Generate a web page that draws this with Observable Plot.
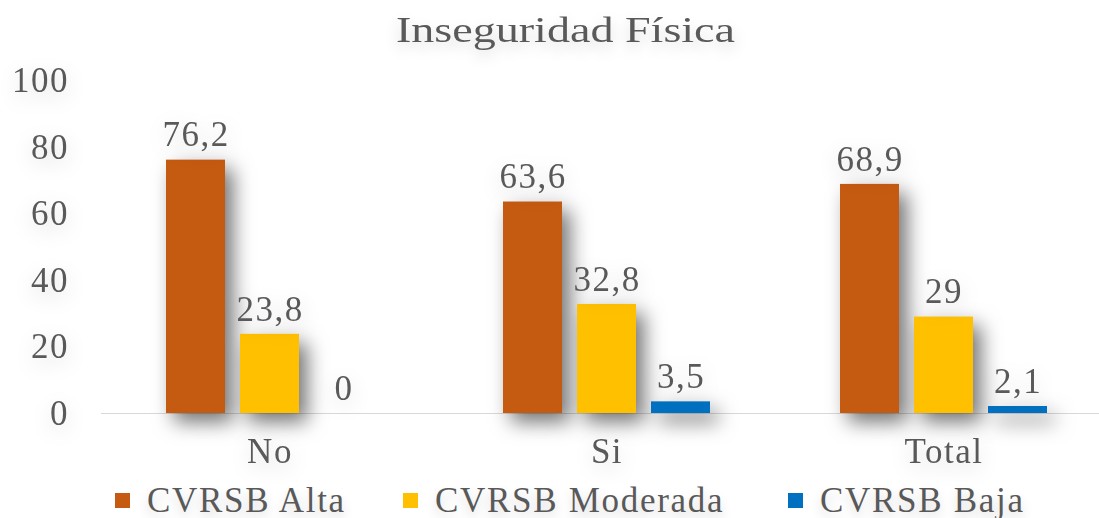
<!DOCTYPE html>
<html>
<head>
<meta charset="utf-8">
<script src="https://cdn.jsdelivr.net/npm/d3@7"></script>
<script src="https://cdn.jsdelivr.net/npm/@observablehq/plot@0.6"></script>
<style>
  html, body { margin: 0; padding: 0; background: #ffffff; overflow: hidden; }
  #wrap { width: 1099px; height: 518px; position: relative; font-family: "Liberation Serif", "Times New Roman", serif; color: #595959; }
  #title { height: 60px; line-height: 60px; font-size: 36px; text-align: center; position: relative; }
  #title span { display: inline-block; transform: scaleX(1.28); position: relative; left: 16px; text-shadow: 0 6px 14px rgba(0,0,0,0.18); }
  #chart svg { display: block; overflow: visible; }
  #chart svg text { font-family: "Liberation Serif", "Times New Roman", serif; font-size: 35px; fill: #595959; letter-spacing: 1.5px; filter: drop-shadow(0px 6px 10px rgba(0,0,0,0.16)); }
  #chart svg g[aria-label="bar"] rect { filter: drop-shadow(8px 9px 10px rgba(0,0,0,0.55)); }
  #legend { position: relative; height: 43px; font-size: 35px; letter-spacing: 1.7px; }
  #legend .item { position: absolute; top: 4px; line-height: 43px; white-space: nowrap; text-shadow: 0 6px 12px rgba(0,0,0,0.16); }
  #legend .sw { display: inline-block; width: 15px; height: 15px; vertical-align: 4px; margin-right: 17px; }
</style>
</head>
<body>
<div id="wrap">
  <div id="title"><span>Inseguridad Física</span></div>
  <div id="chart"></div>
  <div id="legend"></div>
</div>
<script>
const groups = ["No", "Si", "Total"];
const series = ["CVRSB Alta", "CVRSB Moderada", "CVRSB Baja"];
const alta = [76.2, 63.6, 68.9];
const moderada = [23.8, 32.8, 29];
const baja = [0, 3.5, 2.1];
const colors = ["#C55A11", "#FFC000", "#0070C0"];
const yTicks = [0, 20, 40, 60, 80, 100];

const valuesBySeries = [alta, moderada, baja];
const data = [];
groups.forEach((g, gi) => {
  series.forEach((s, si) => {
    data.push({group: g, series: s, value: valuesBySeries[si][gi]});
  });
});
const fmt = v => String(v).replace(".", ",");

const chart = Plot.plot({
  width: 1099,
  height: 415,
  marginTop: 20.5,
  marginBottom: 62,
  marginLeft: 101,
  marginRight: 0,
  fx: {domain: groups, range: [101, 1112], padding: 0, label: null, tickSize: 0, tickPadding: 25},
  x: {domain: series, paddingInner: 0.208, paddingOuter: 0.866, axis: null},
  y: {domain: [0, 100], ticks: yTicks, tickSize: 0, tickPadding: 32.5, label: null, tickFormat: d => String(d)},
  color: {domain: series, range: colors},
  marks: [
    Plot.ruleY([0], {stroke: "#D9D9D9", strokeWidth: 1}),
    Plot.barY(data, {fx: "group", x: "series", y: "value", fill: "series"}),
    Plot.text(data, {fx: "group", x: "series", y: "value", text: d => fmt(d.value), dy: -25})
  ]
});
document.getElementById("chart").appendChild(chart);

const legendPos = [115, 403, 788];
const legend = document.getElementById("legend");
series.forEach((s, i) => {
  const item = document.createElement("div");
  item.className = "item";
  item.style.left = legendPos[i] + "px";
  const sw = document.createElement("span");
  sw.className = "sw";
  sw.style.background = colors[i];
  item.appendChild(sw);
  item.appendChild(document.createTextNode(s));
  legend.appendChild(item);
});
</script>
</body>
</html>
